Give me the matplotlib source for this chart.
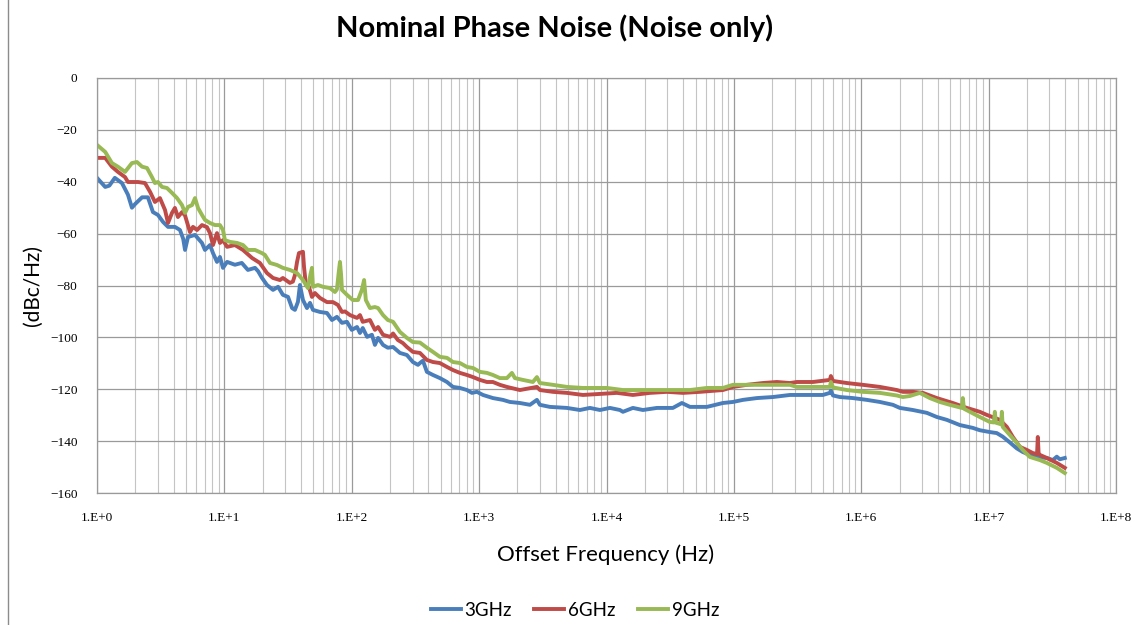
import matplotlib
matplotlib.use('Agg')
import matplotlib.pyplot as plt
from matplotlib.lines import Line2D
from matplotlib.ticker import FixedLocator, LogLocator, NullFormatter

# offset frequency (Hz) and phase noise (dBc/Hz)
f_3g = [1.0, 1.16, 1.25, 1.38, 1.57, 1.75, 1.88, 2.0, 2.26, 2.51, 2.75, 3.01, 3.30, 3.61, 4.09,
        4.48, 4.75, 4.91, 5.18, 5.88, 6.67, 7.04, 7.71, 8.14, 8.75, 9.23, 9.75, 10.5, 12.1, 13.7,
        15.3, 17.4, 18.4, 19.7, 21.6, 24.1, 26.4, 28.8, 31.6, 34.0, 35.8, 37.8, 39.2, 41.4, 44.5,
        47.0, 49.6, 56.3, 63.9, 69.9, 76.5, 83.8, 91.7, 100, 110, 116, 122, 132, 144, 152, 161,
        176, 192, 211, 239, 271, 302, 331, 343, 362, 389, 434, 492, 559, 623, 707, 802, 878, 961,
        1072, 1283, 1538, 1746, 2090, 2506, 2843, 3000, 3594, 4886, 6184, 7410, 8880, 10640,
        12740, 13460, 16110, 19310, 24880, 33200, 39060, 45190, 61420, 82030, 98230, 117700,
        151600, 202300, 275400, 329800, 417000, 499700, 567200, 577400, 600000, 679000, 859600,
        1107000, 1400000, 1771000, 2009000, 2542000, 3274000, 3921000, 4697000, 5942000, 7515000,
        8531000, 10210000, 11590000, 12920000, 14670000, 16640000, 18550000, 21050000, 25230000,
        28640000, 31920000, 34280000, 36220000, 39630000]
pn_3g = [-38.5, -42.0, -41.5, -38.5, -40.5, -45.0, -50.0, -48.5, -46.0, -46.0, -51.7, -52.8, -55.5,
         -57.4, -57.4, -58.6, -62.0, -66.3, -61.3, -60.5, -63.6, -66.3, -64.4, -67.5, -70.9, -69.0,
         -73.2, -70.9, -72.0, -71.3, -74.0, -73.2, -74.5, -77.0, -79.8, -81.7, -80.5, -83.6, -84.4,
         -88.7, -89.4, -86.3, -79.8, -85.6, -88.7, -86.7, -89.4, -90.2, -90.6, -93.3, -92.1, -94.4,
         -94.0, -97.1, -96.0, -98.3, -96.4, -99.8, -99.0, -102.9, -100.2, -102.9, -104.0, -103.7,
         -106.0, -106.8, -109.5, -110.6, -109.9, -109.0, -113.3, -114.5, -115.7, -117.2, -119.1,
         -119.5, -120.3, -121.4, -121.0, -122.2, -123.4, -124.1, -124.9, -125.3, -126.0, -124.1,
         -126.0, -126.8, -127.2, -128.0, -127.2, -128.0, -127.2, -128.0, -128.7, -127.2, -128.0,
         -127.2, -127.2, -125.3, -126.8, -126.8, -125.3, -124.9, -124.1, -123.4, -123.0, -122.2,
         -122.2, -122.2, -122.2, -121.4, -120.5, -122.4, -123.0, -123.4, -124.1, -124.9, -126.0,
         -127.2, -128.0, -129.1, -130.7, -131.8, -133.8, -134.9, -135.8, -136.5, -136.9, -138.3,
         -140.5, -142.8, -144.2, -145.3, -146.3, -146.5, -147.3, -146.0, -147.0, -146.5]

f_6g = [1.0, 1.16, 1.31, 1.46, 1.66, 1.75, 2.10, 2.38, 2.61, 2.85, 3.12, 3.42, 3.61, 3.88, 4.09,
        4.32, 4.65, 4.91, 5.37, 5.67, 6.10, 6.67, 7.30, 7.71, 8.14, 8.75, 9.23, 9.75, 10.5, 12.1,
        14.0, 16.5, 19.0, 21.6, 24.1, 27.3, 28.8, 32.7, 34.5, 35.8, 37.2, 38.5, 41.4, 42.2, 43.7,
        46.1, 48.7, 51.4, 56.3, 63.9, 71.2, 77.9, 83.8, 88.5, 96.8, 110, 116, 122, 139, 152, 161,
        176, 200, 211, 230, 252, 271, 302, 343, 389, 434, 492, 559, 623, 707, 802, 894, 1015, 1151,
        1283, 1456, 1652, 2090, 2843, 3000, 3797, 4886, 6530, 8880, 12080, 16110, 21920, 29810,
        39810, 54110, 82030, 98230, 126500, 169000, 217600, 275400, 312400, 417000, 567200,
        577400, 600000, 770500, 1030000, 1400000, 1903000, 2121000, 2542000, 3046000, 3921000,
        5235000, 6745000, 8531000, 9684000, 12250000, 13890000, 15490000, 17580000, 19940000,
        22230000, 24000000, 24330000, 24700000, 25230000, 28640000, 34280000, 39630000]
pn_6g = [-30.8, -30.8, -34.2, -36.2, -38.2, -40.1, -40.1, -40.5, -43.9, -47.8, -46.3, -50.9, -55.9,
         -52.0, -50.1, -53.6, -51.7, -53.0, -59.4, -57.4, -58.6, -56.7, -57.5, -59.8, -64.4, -59.8,
         -63.6, -62.5, -65.1, -64.4, -66.3, -69.4, -71.3, -75.2, -77.1, -77.9, -77.1, -79.0, -78.5,
         -76.0, -70.9, -67.5, -67.0, -72.9, -79.8, -80.5, -84.4, -82.9, -84.8, -86.4, -86.4, -87.5,
         -90.2, -90.0, -91.4, -92.5, -91.4, -94.0, -93.3, -97.1, -96.0, -99.0, -99.8, -98.5,
         -101.0, -102.2, -103.7, -105.6, -106.0, -108.7, -109.5, -109.9, -111.4, -112.6, -113.7,
         -114.5, -115.3, -116.4, -117.2, -117.2, -118.3, -119.1, -120.3, -119.1, -120.3, -121.0,
         -121.4, -122.2, -121.8, -121.4, -122.2, -121.4, -121.0, -121.4, -121.0, -120.3, -119.1,
         -118.3, -117.6, -117.2, -117.6, -117.2, -117.2, -116.4, -114.9, -116.8, -117.6, -118.3,
         -119.1, -120.3, -121.0, -121.0, -121.4, -123.4, -125.3, -127.2, -128.7, -129.9, -131.8,
         -134.5, -138.4, -142.2, -143.4, -144.6, -145.0, -138.4, -145.0, -145.3, -146.5, -148.4,
         -150.3]

f_9g = [1.0, 1.16, 1.31, 1.46, 1.66, 1.88, 2.06, 2.26, 2.47, 2.70, 2.85, 3.01, 3.24, 3.54, 3.88,
        4.25, 4.65, 4.91, 5.18, 5.57, 5.88, 6.21, 6.67, 7.04, 7.71, 8.44, 9.23, 9.75, 10.1, 11.1,
        12.6, 14.0, 15.3, 17.4, 19.7, 20.8, 22.8, 25.9, 28.8, 32.7, 37.2, 41.4, 45.3, 47.5, 48.7,
        49.6, 54.3, 59.4, 67.4, 73.8, 76.5, 79.0, 80.8, 82.5, 83.8, 91.7, 102, 112, 120, 125, 129,
        139, 152, 161, 176, 192, 211, 239, 271, 302, 343, 389, 434, 492, 559, 623, 707, 802, 894,
        1015, 1151, 1283, 1456, 1652, 1809, 1910, 2206, 2644, 2843, 3000, 3797, 4886, 6530, 10070,
        13460, 18290, 24880, 33200, 45190, 61420, 82030, 98230, 126500, 169000, 275400, 312400,
        417000, 567200, 577400, 600000, 770500, 1030000, 1400000, 1903000, 2121000, 2407000,
        2885000, 3455000, 4138000, 4957000, 6164000, 6271000, 6400000, 7117000, 8531000,
        10210000, 11000000, 11190000, 11400000, 12500000, 12700000, 12900000, 14670000,
        16640000, 18550000, 21050000, 25230000, 28640000, 34280000, 39630000]
pn_9g = [-25.8, -28.5, -32.8, -34.2, -36.2, -32.8, -32.4, -34.2, -34.7, -38.2, -40.5, -40.1, -42.0,
         -42.4, -44.3, -46.3, -49.0, -52.0, -49.7, -49.0, -46.3, -50.1, -52.8, -54.7, -55.9, -56.7,
         -56.7, -58.6, -62.5, -63.2, -63.6, -64.4, -66.3, -66.3, -67.5, -68.2, -71.3, -72.1, -73.2,
         -74.0, -75.2, -77.9, -81.0, -75.5, -73.2, -80.5, -79.8, -80.5, -81.0, -82.5, -81.5, -75.0,
         -70.9, -76.0, -81.7, -83.6, -85.6, -85.6, -81.7, -77.9, -85.6, -88.7, -88.3, -88.7, -91.4,
         -93.3, -94.0, -97.9, -100.2, -101.8, -102.0, -104.0, -105.6, -107.5, -107.9, -109.5,
         -109.9, -111.4, -111.8, -113.3, -113.7, -114.5, -115.7, -115.7, -113.7, -115.7, -116.4,
         -117.2, -115.3, -117.6, -118.3, -119.1, -119.5, -119.5, -120.3, -120.3, -120.3, -120.3,
         -120.3, -119.5, -119.5, -118.3, -118.3, -118.3, -118.3, -119.1, -119.1, -119.1, -117.2,
         -119.3, -120.3, -121.0, -121.4, -122.4, -123.0, -122.6, -121.4, -123.4, -124.9, -126.0,
         -127.2, -123.4, -127.5, -128.7, -130.7, -132.6, -132.8, -128.7, -132.9, -133.5, -128.7,
         -134.5, -137.6, -140.7, -143.4, -146.1, -147.3, -148.4, -150.3, -152.3]

series_labels = ['3GHz', '6GHz', '9GHz']
series_colors = ['#4A7EBB', '#BE4B48', '#98B954']
x_ticks = [1e0, 1e1, 1e2, 1e3, 1e4, 1e5, 1e6, 1e7, 1e8]
x_ticklabels = ['1.E+0', '1.E+1', '1.E+2', '1.E+3', '1.E+4', '1.E+5', '1.E+6', '1.E+7', '1.E+8']
y_ticks = [0, -20, -40, -60, -80, -100, -120, -140, -160]

fig = plt.figure(figsize=(11.46, 6.25), dpi=100)
ax = fig.add_axes([97 / 1146, 1 - 493 / 625, (1116 - 97) / 1146, (493 - 78) / 625])

for f, pn, lab, col in zip([f_3g, f_6g, f_9g], [pn_3g, pn_6g, pn_9g], series_labels, series_colors):
    ax.plot(f, pn, color=col, lw=2.8, label=lab, solid_joinstyle='round')

ax.set_xscale('log')
ax.set_xlim(1, 1e8)
ax.set_ylim(-160, 0)
ax.xaxis.set_major_locator(FixedLocator(x_ticks))
ax.set_xticklabels(x_ticklabels)
ax.xaxis.set_minor_locator(LogLocator(base=10, subs=range(2, 10), numticks=100))
ax.xaxis.set_minor_formatter(NullFormatter())
ax.set_yticks(y_ticks)
ax.grid(True, which='major', color='#9a9a9a', lw=0.9)
ax.grid(True, which='minor', axis='x', color='#c4c4c4', lw=0.8)
ax.set_axisbelow(True)
for s in ax.spines.values():
    s.set_color('#9a9a9a')
    s.set_linewidth(0.9)
ax.tick_params(which='both', length=0)
ax.tick_params(axis='x', pad=14)
ax.tick_params(axis='y', pad=14)
for t in ax.get_xticklabels() + ax.get_yticklabels():
    t.set_fontfamily('Liberation Serif')
    t.set_fontsize(9.5)

fig.text(555 / 1146, 1 - 28 / 625, 'Nominal Phase Noise (Noise only)', ha='center', va='center',
         fontsize=21, fontweight='bold', family='Lato')
fig.text(606 / 1146, 1 - 555 / 625, 'Offset Frequency (Hz)', ha='center', va='center',
         fontsize=16, family='Lato')
fig.text(33 / 1146, 1 - 285 / 625, '(dBc/Hz)', ha='center', va='center', rotation=90,
         fontsize=15, family='Lato')
fig.legend(loc='center', bbox_to_anchor=(575 / 1146, 1 - 610 / 625), ncol=3, frameon=False,
           prop={'family': 'Lato', 'size': 13.5}, handlelength=1.6, columnspacing=1.2,
           handletextpad=0.2)

# chart-area border on the left
fig.add_artist(Line2D([8 / 1146, 8 / 1146], [0, 1], transform=fig.transFigure, color='#8c8c8c', lw=1))

fig.savefig('out.png', dpi=100)
